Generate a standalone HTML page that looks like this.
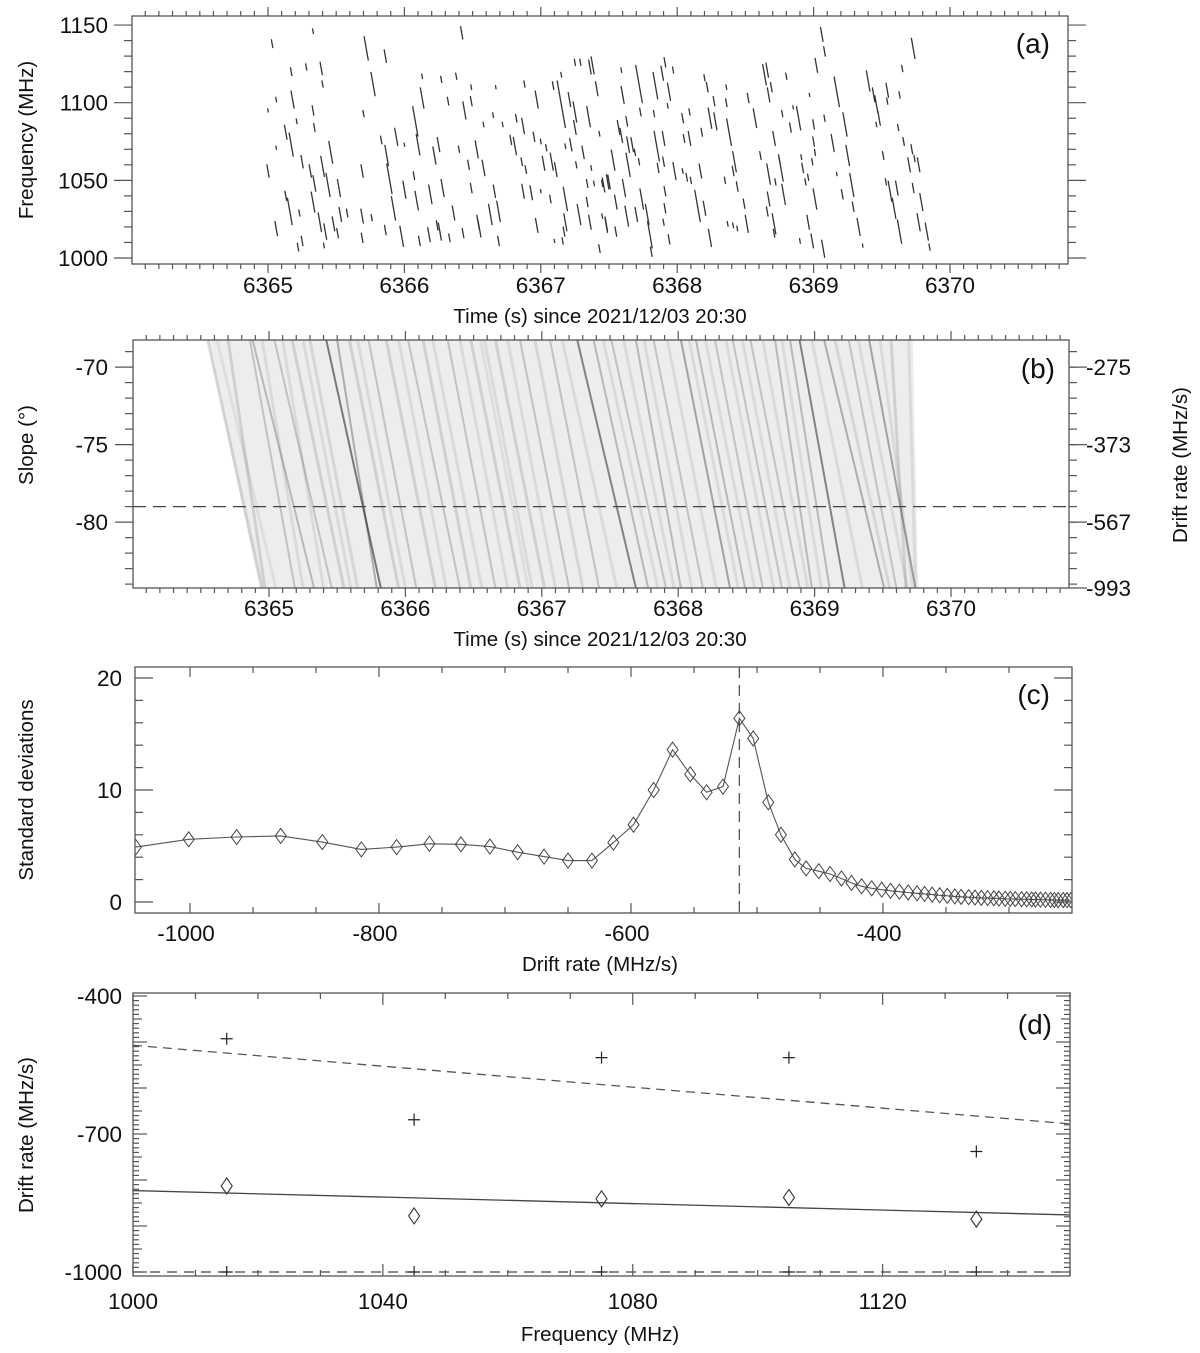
<!DOCTYPE html>
<html><head><meta charset="utf-8">
<style>
html,body{margin:0;padding:0;background:#fff;}
svg{display:block;font-family:"Liberation Sans",Arial,sans-serif;}
</style></head>
<body>
<svg id="fig" width="1200" height="1353" viewBox="0 0 1200 1353" xmlns="http://www.w3.org/2000/svg">
<defs>
<clipPath id="clipA"><rect x="132" y="16" width="936" height="248"/></clipPath>
<clipPath id="clipB"><rect x="133" y="340" width="936" height="248"/></clipPath>
<clipPath id="clipC"><rect x="135" y="667" width="937" height="246"/></clipPath>
<clipPath id="clipD"><rect x="133" y="993" width="937" height="283"/></clipPath>
</defs>
<g id="panelA"></g>
<g id="panelB"></g>
<g id="panelC"></g>
<g id="panelD"></g>
</svg>
<script>
// ---------- Panel (a): burst dashes [time s, centre freq MHz, length MHz]
const burstDashes = [
[6365.03,1138,5],[6365.33,1146,3],[6365.72,1135,15],[6365.86,1130,8],[6366.42,1145,8],
[6365.17,1120,5],[6365.28,1123,4],[6365.39,1122,8],[6365.40,1112,4],[6365.06,1102,3],
[6365.18,1102,11],[6365.33,1095,6],[6365.34,1084,5],[6365.21,1088,3],[6365.13,1081,9],
[6365.17,1073,15],[6365.06,1071,2],[6365.00,1056,8],[6365.25,1062,8],[6365.31,1056,8],
[6365.34,1048,10],[6365.40,1059,13],[6365.46,1068,14],[6365.44,1047,15],[6365.52,1045,11],
[6365.13,1040,6],[6365.16,1030,17],[6365.23,1029,4],[6365.33,1036,13],[6365.38,1023,12],
[6365.42,1017,10],[6365.48,1022,9],[6365.53,1028,9],[6365.58,1029,5],[6365.06,1019,9],
[6365.25,1011,6],[6365.22,1007,5],[6365.41,1008,3],[6365.51,1016,6],[6365.77,1112,15],
[6365.70,1093,4],[6365.69,1056,8],[6365.69,1027,9],[6365.69,1013,6],[6365.76,1026,4],
[6365.86,1018,6],[6365.83,1076,5],[6365.87,1066,13],[6365.89,1051,19],[6365.92,1032,15],
[6365.98,1014,13],[6365.94,1078,11],[6366.00,1073,2],[6366.08,1088,19],[6366.10,1073,13],
[6366.13,1117,3],[6366.13,1103,13],[6366.00,1044,11],[6366.07,1053,5],[6366.09,1037,12],
[6366.19,1041,12],[6366.22,1066,11],[6366.25,1073,9],[6366.28,1045,11],[6366.27,1115,4],
[6366.32,1101,5],[6366.38,1117,4],[6366.44,1095,11],[6366.49,1110,3],[6366.49,1101,6],
[6366.40,1070,4],[6366.47,1060,6],[6366.53,1070,11],[6366.58,1058,10],[6366.49,1045,6],
[6366.36,1029,9],[6366.33,1013,5],[6366.43,1016,6],[6366.54,1023,9],[6366.55,1019,11],
[6366.63,1028,13],[6366.66,1043,8],[6366.69,1030,13],[6366.69,1011,6],[6366.11,1011,6],
[6366.18,1015,9],[6366.26,1017,11],[6366.24,1021,6],[6366.67,1110,2],[6366.65,1092,3],
[6366.58,1086,3],[6366.72,1086,3],[6366.78,1076,6],[6366.81,1072,11],[6366.82,1090,5],
[6366.87,1085,10],[6366.88,1112,4],[6366.86,1062,5],[6366.89,1057,5],[6366.95,1078,6],
[6366.97,1102,11],[6367.00,1075,3],[6367.04,1071,4],[6367.02,1061,9],[6367.08,1062,11],
[6367.11,1057,9],[6366.87,1043,9],[6366.93,1042,9],[6367.00,1043,2],[6367.07,1038,5],
[6366.97,1021,9],[6367.09,1111,5],[6367.15,1118,3],[6367.15,1099,30],[6367.21,1102,9],
[6367.25,1094,13],[6367.25,1084,9],[6367.18,1072,3],[6367.22,1073,8],[6367.31,1068,8],
[6367.36,1123,9],[6367.41,1109,9],[6367.38,1124,11],[6367.25,1126,4],[6367.29,1126,4],
[6367.35,1091,13],[6367.43,1080,3],[6367.26,1060,4],[6367.37,1058,3],[6367.34,1048,5],
[6367.39,1048,3],[6367.18,1038,15],[6367.18,1023,11],[6367.17,1017,6],[6367.28,1028,13],
[6367.34,1036,6],[6367.36,1023,9],[6367.45,1027,3],[6367.48,1022,9],[6367.45,1048,4],
[6367.50,1049,9],[6367.43,1006,5],[6367.10,1011,2],[6367.16,1011,4],[6365.00,1095,2],
[6367.59,1121,3],[6367.60,1105,11],[6367.72,1112,24],[6367.73,1094,5],[6367.91,1126,6],
[6367.89,1119,9],[6367.97,1121,4],[6367.84,1111,17],[6367.94,1107,11],[6367.83,1093,4],
[6367.93,1098,3],[6367.57,1084,9],[6367.63,1088,6],[6367.59,1079,9],[6367.53,1063,13],
[6367.64,1073,10],[6367.67,1073,9],[6367.64,1060,15],[6367.69,1068,4],[6367.72,1062,4],
[6367.46,1047,9],[6367.49,1049,9],[6367.55,1036,9],[6367.61,1045,11],[6367.55,1017,6],
[6367.48,1021,9],[6367.63,1027,13],[6367.70,1028,9],[6367.74,1038,13],[6367.78,1028,13],
[6367.80,1015,17],[6367.81,1004,6],[6367.85,1072,19],[6367.90,1077,9],[6367.90,1062,6],
[6367.86,1058,6],[6367.91,1043,6],[6367.91,1032,6],[6367.90,1023,4],[6367.94,1012,6],
[6367.98,1056,11],[6368.04,1090,6],[6368.05,1077,5],[6368.09,1094,4],[6368.09,1077,9],
[6368.04,1056,3],[6368.07,1052,5],[6368.10,1050,4],[6368.17,1056,9],[6368.14,1038,11],
[6368.16,1028,9],[6368.20,1032,9],[6368.24,1013,11],[6368.18,1081,5],[6368.20,1116,4],
[6368.22,1110,6],[6368.27,1101,6],[6368.24,1090,13],[6368.28,1088,11],[6368.36,1110,3],
[6368.36,1100,5],[6368.38,1081,17],[6368.42,1062,13],[6368.41,1056,6],[6368.35,1050,4],
[6368.44,1046,6],[6368.49,1035,6],[6368.51,1022,11],[6368.37,1022,3],[6368.41,1021,3],
[6368.44,1019,3],[6368.52,1103,6],[6368.57,1090,12],[6368.64,1118,13],[6368.66,1121,9],
[6368.67,1105,9],[6368.69,1110,6],[6368.61,1066,5],[6368.67,1054,13],[6368.67,1038,9],
[6368.66,1030,6],[6368.71,1077,9],[6368.71,1022,13],[6368.71,1016,5],[6368.72,1049,4],
[6368.76,1058,17],[6368.78,1041,13],[6368.75,1063,3],[6368.77,1093,4],[6368.80,1117,4],
[6368.83,1084,6],[6368.85,1097,2],[6368.89,1090,15],[6368.91,1065,3],[6368.92,1058,6],
[6368.94,1049,4],[6368.96,1052,4],[6368.99,1062,4],[6369.00,1086,6],[6369.00,1075,6],
[6369.01,1068,4],[6369.01,1038,13],[6369.08,1090,4],[6369.02,1124,9],[6369.06,1144,9],
[6369.08,1133,6],[6368.97,1105,2],[6368.96,1023,9],[6368.99,1011,9],[6368.90,1011,3],
[6369.07,1006,11],[6369.14,1074,11],[6369.17,1107,19],[6369.23,1086,15],[6369.25,1066,13],
[6369.28,1047,15],[6369.17,1054,2],[6369.21,1041,6],[6369.29,1033,6],[6369.33,1020,11],
[6369.36,1008,2],[6369.40,1114,13],[6369.44,1105,9],[6369.46,1099,11],[6369.54,1108,9],
[6369.54,1101,4],[6369.51,1066,5],[6369.46,1086,3],[6369.48,1090,9],[6369.62,1084,4],
[6369.63,1105,4],[6369.65,1122,4],[6369.66,1075,5],[6369.72,1070,6],[6369.70,1060,9],
[6369.74,1064,4],[6369.77,1060,9],[6369.73,1045,6],[6369.53,1049,4],[6369.56,1043,13],
[6369.59,1032,13],[6369.61,1045,9],[6369.63,1017,15],[6369.79,1036,11],[6369.77,1023,11],
[6369.83,1017,11],[6369.85,1007,4],[6369.73,1135,13]
];
const timeTicks = [6365,6366,6367,6368,6369,6370];
const freqTicksA = [1000,1050,1100,1150];

// ---------- Panel (b): slope-map tracks [time at top (-68.25°), time at bottom (-84.25°), darkness]
const slopeTracks = [
[6364.55,6364.95,0.15],[6364.70,6364.97,0.15],[6364.86,6365.19,0.2],[6364.88,6365.33,0.25],
[6365.04,6365.46,0.2],[6365.17,6365.55,0.15],[6365.42,6365.82,0.55],[6365.50,6365.79,0.3],
[6365.59,6365.95,0.15],[6365.73,6366.08,0.2],[6365.86,6366.22,0.15],[6366.02,6366.40,0.2],
[6366.13,6366.48,0.15],[6366.31,6366.66,0.2],[6366.48,6366.84,0.15],[6366.66,6367.02,0.15],
[6366.84,6367.20,0.2],[6367.06,6367.42,0.2],[6367.26,6367.69,0.5],[6367.38,6367.78,0.25],
[6367.51,6367.91,0.2],[6367.69,6368.02,0.25],[6367.82,6368.18,0.2],[6368.02,6368.38,0.35],
[6368.13,6368.49,0.25],[6368.27,6368.62,0.2],[6368.40,6368.76,0.2],[6368.53,6368.89,0.2],
[6368.71,6368.98,0.25],[6368.82,6369.11,0.25],[6368.89,6369.22,0.5],[6369.07,6369.51,0.3],
[6369.25,6369.60,0.2],[6369.40,6369.74,0.35],[6369.56,6369.67,0.15],[6369.69,6369.74,0.1],
[6364.62,6365.05,0.08],[6364.95,6365.25,0.1],[6365.10,6365.40,0.1],[6365.30,6365.65,0.12],
[6365.65,6366.00,0.1],[6365.95,6366.30,0.1],[6366.20,6366.56,0.1],[6366.40,6366.75,0.1],
[6366.58,6366.93,0.1],[6366.75,6367.10,0.1],[6366.95,6367.30,0.12],[6367.15,6367.55,0.1],
[6367.45,6367.85,0.1],[6367.60,6367.97,0.1],[6367.75,6368.10,0.1],[6367.92,6368.28,0.1],
[6368.08,6368.44,0.1],[6368.20,6368.56,0.1],[6368.35,6368.70,0.1],[6368.47,6368.82,0.1],
[6368.62,6368.95,0.1],[6368.76,6369.05,0.1],[6368.98,6369.35,0.1],[6369.15,6369.55,0.12],
[6369.32,6369.68,0.1],[6369.48,6369.72,0.1],[6365.25,6365.60,0.1],[6366.55,6366.90,0.08]
];
// extent of the filled track region [top-left time, top-right time, bottom-left time, bottom-right time]
const slopeRegion = [6364.55,6369.72,6364.93,6369.76];
const slopeTicks = [-70,-75,-80];
const driftTickSlopes = [-70,-75,-80,-84.25];
const driftTickLabels = ['-275','-373','-567','-993'];
const selectedSlope = -79;

// ---------- Panel (c)
const driftRates = [-993,-951,-913,-878,-845,-814,-786,-760,-735,-712,-690,-669,-650,-631,-614,-598,-582,-567,-553,-540,-527,-514,-503,-491,-481,-470,-461,-451,-442,-433,-425,-417,-409,-401,-394,-387,-380,-373,-367,-361,-355,-349,-343,-338,-332,-327,-322,-317,-312,-308,-303,-299,-295,-290,-286,-282,-279,-275,-271,-267,-264,-261,-257,-254,-251];
const stdDevs = [4.9,5.6,5.8,5.9,5.35,4.7,4.9,5.2,5.15,4.95,4.45,4.05,3.7,3.7,5.3,6.9,10.0,13.6,11.4,9.8,10.3,16.4,14.6,8.9,6.0,3.8,3.0,2.75,2.5,2.1,1.7,1.4,1.22,1.1,1.0,0.92,0.85,0.78,0.72,0.66,0.6,0.55,0.5,0.46,0.43,0.4,0.37,0.35,0.33,0.31,0.29,0.28,0.26,0.25,0.24,0.23,0.22,0.21,0.2,0.19,0.18,0.17,0.17,0.16,0.16];
const peakDrift = -514;
const driftTickValuesC = [-950,-800,-600,-400];
const driftTickLabelsC = ['-1000','-800','-600','-400'];
const stdTicks = [0,10,20];

// ---------- Panel (d)
const bandFreqs = [1015,1045,1075,1105,1135];
const plusDrifts = [-493,-669,-534,-534,-738];
const diamondDrifts = [-813,-878,-841,-838,-885];
const fitFreqs = [1000,1150];
const solidFit = [-823,-876];
const dashedFit = [-507,-678];
const baselineDrift = -1000;
const freqTicksD = [1000,1040,1080,1120];
const driftTicksD = [-400,-700,-1000];

const NS = 'http://www.w3.org/2000/svg';
function mk(parent, tag, attrs, text){
  const e = document.createElementNS(NS, tag);
  for (const k in attrs) e.setAttribute(k, attrs[k]);
  if (text !== undefined) e.textContent = text;
  parent.appendChild(e);
  return e;
}
const AX = '#555';
const FS = 22.5;
const TS = 20.5;

const xA = t => 268 + (t - 6365) * 136.4;
const yA = f => 258 - (f - 1000) * 1.553;
const xB = t => 269 + (t - 6365) * 136.4;
const yB = s => 340 + (-68.25 - s) * 15.5;
const xC = d => 631 + (d + 600) * 1.26;
const yC = v => 902 - v * 11.2;
const xD = f => 133 + (f - 1000) * 6.247;
const yD = v => 996 + (-400 - v) * 0.46;

function box(g, L, T, R, B, name){
  const r = mk(g,'rect',{x:L,y:T,width:R-L,height:B-T,fill:'none',stroke:AX,'stroke-width':1.3});
  
  
}
function tickLine(g, x1,y1,x2,y2){ mk(g,'line',{x1:x1,y1:y1,x2:x2,y2:y2,stroke:AX,'stroke-width':1.2}); }

// ================= Panel A
(function(){
  const g = document.getElementById('panelA');
  const L=132,R=1068,T=16,B=264;
  const data = mk(g,'g',{'clip-path':'url(#clipA)'});
  
  
  burstDashes.forEach(d => {
    const dt = d[2] / 500;
    const ln = mk(data,'line',{x1:xA(d[0]-dt/2),y1:yA(d[1]+d[2]/2),x2:xA(d[0]+dt/2),y2:yA(d[1]-d[2]/2),stroke:'#333','stroke-width':1.3,'stroke-linecap':'round'});
    
    
  });
  box(g,L,T,R,B,'panel-a-frame');
  for (let i=0;i<=69;i++){
    const t = 6364 + i*0.1; const x = xA(t);
    if (x<L||x>R) continue;
    const major = Math.abs(t-Math.round(t))<1e-6;
    const len = major?9:5;
    tickLine(g,x,B,x,B+len); tickLine(g,x,T,x,T-len);
  }
  for (let f=1000; f<=1150; f+=10){
    const y=yA(f); const major = f%50===0; const len=major?18:8;
    tickLine(g,L-len,y,L,y); tickLine(g,R,y,R+len,y);
  }
  timeTicks.forEach(t=>{
    const tx = mk(g,'text',{x:xA(t),y:293,'font-size':FS,'text-anchor':'middle',fill:'#111'},String(t));
    
    
  });
  freqTicksA.forEach(f=>{
    const tx = mk(g,'text',{x:108,y:yA(f)+8,'font-size':FS,'text-anchor':'end',fill:'#111'},String(f));
    
    
  });
  const xt = mk(g,'text',{x:600,y:323,'font-size':TS,'text-anchor':'middle',fill:'#111'},'Time (s) since 2021/12/03 20:30');
  
  
  const yt = mk(g,'text',{x:0,y:0,'font-size':TS,'text-anchor':'middle',fill:'#111',transform:'translate(33,140) rotate(-90)'},'Frequency (MHz)');
  
  
  const pl = mk(g,'text',{x:1050,y:53,'font-size':28,'text-anchor':'end',fill:'#111'},'(a)');
  
  
})();

// ================= Panel B
(function(){
  const g = document.getElementById('panelB');
  const L=133,R=1069,T=340,B=588;
  const data = mk(g,'g',{'clip-path':'url(#clipB)'});
  
  
  const yt0 = yB(-68.25), yb0 = yB(-84.25);
  const bg = mk(data,'polygon',{points:`${xB(slopeRegion[0])},${yt0} ${xB(slopeRegion[1])},${yt0} ${xB(slopeRegion[3])},${yb0} ${xB(slopeRegion[2])},${yb0}`,fill:'#000','fill-opacity':0.07});
  
  
  slopeTracks.forEach(s=>{
    const w = s[2] < 0.2 ? 3 : 2;
    const a = s[2] < 0.2 ? s[2]*0.8 : s[2]*0.9;
    const ln = mk(data,'line',{x1:xB(s[0]),y1:yt0,x2:xB(s[1]),y2:yb0,stroke:'#000','stroke-opacity':a,'stroke-width':w});
    
    
  });
  const dl = mk(g,'line',{x1:L,y1:yB(selectedSlope),x2:R,y2:yB(selectedSlope),stroke:'#444','stroke-width':1.3,'stroke-dasharray':'13,7'});
  
  
  box(g,L,T,R,B,'panel-b-frame');
  for (let i=0;i<=69;i++){
    const t = 6364 + i*0.1; const x = xB(t);
    if (x<L||x>R) continue;
    const major = Math.abs(t-Math.round(t))<1e-6;
    const len = major?9:5;
    tickLine(g,x,B,x,B+len); tickLine(g,x,T,x,T-len);
  }
  for (let s=-69; s>=-84; s--){
    const y=yB(s); const major = s%5===0; const len=major?18:8;
    tickLine(g,L-len,y,L,y);
  }
  for (let s=-69; s>=-84; s--){ const y=yB(s); tickLine(g,R,y,R+8,y); }
  driftTickSlopes.forEach(s=>{ const y=yB(s); tickLine(g,R,y,R+18,y); });
  timeTicks.forEach(t=>{
    const tx = mk(g,'text',{x:xB(t),y:616,'font-size':FS,'text-anchor':'middle',fill:'#111'},String(t));
    
    
  });
  slopeTicks.forEach(s=>{
    const tx = mk(g,'text',{x:108,y:yB(s)+8,'font-size':FS,'text-anchor':'end',fill:'#111'},String(s));
    
    
  });
  driftTickSlopes.forEach((s,i)=>{
    const tx = mk(g,'text',{x:1086,y:yB(s)+8,'font-size':FS,'text-anchor':'start',fill:'#111'},driftTickLabels[i]);
    
    
  });
  const xt = mk(g,'text',{x:600,y:646,'font-size':TS,'text-anchor':'middle',fill:'#111'},'Time (s) since 2021/12/03 20:30');
  
  
  const yt = mk(g,'text',{x:0,y:0,'font-size':TS,'text-anchor':'middle',fill:'#111',transform:'translate(33,445) rotate(-90)'},'Slope (°)');
  
  
  const yt2 = mk(g,'text',{x:0,y:0,'font-size':TS,'text-anchor':'middle',fill:'#111',transform:'translate(1187,465) rotate(-90)'},'Drift rate (MHz/s)');
  
  
  const pl = mk(g,'text',{x:1055,y:378,'font-size':28,'text-anchor':'end',fill:'#111'},'(b)');
  
  
})();

// ================= Panel C
(function(){
  const g = document.getElementById('panelC');
  const L=135,R=1072,T=667,B=913;
  const data = mk(g,'g',{'clip-path':'url(#clipC)'});
  const pk = mk(data,'line',{x1:xC(peakDrift),y1:T,x2:xC(peakDrift),y2:B,stroke:'#555','stroke-width':1.3,'stroke-dasharray':'11,7'});
  
  
  const pts = driftRates.map((d,i)=>xC(d).toFixed(1)+','+yC(stdDevs[i]).toFixed(1)).join(' ');
  const pl1 = mk(data,'polyline',{points:pts,fill:'none',stroke:'#555','stroke-width':1.1});
  
  
  driftRates.forEach((d,i)=>{
    const x=xC(d), y=yC(stdDevs[i]);
    const dm = mk(data,'polygon',{points:`${x},${y-7.5} ${x+5.5},${y} ${x},${y+7.5} ${x-5.5},${y}`,fill:'none',stroke:'#444','stroke-width':1});
    
    
  });
  box(g,L,T,R,B,'panel-c-frame');
  for (let d=-950; d<=-300; d+=50){
    const x=xC(d); const major = driftTickValuesC.indexOf(d)>=0; const len=major?10:6;
    tickLine(g,x,B,x,B-len); tickLine(g,x,T,x,T+len);
  }
  for (let v=0; v<=20; v+=2){
    const y=yC(v); const major=v%10===0; const len=major?18:8;
    tickLine(g,L,y,L+len,y); tickLine(g,R-len,y,R,y);
  }
  driftTickValuesC.forEach((d,i)=>{
    const tx = mk(g,'text',{x:xC(d)-4,y:941,'font-size':FS,'text-anchor':'middle',fill:'#111'},driftTickLabelsC[i]);
    
    
  });
  stdTicks.forEach(v=>{
    const tx = mk(g,'text',{x:122,y:yC(v)+8,'font-size':FS,'text-anchor':'end',fill:'#111'},String(v));
    
    
  });
  const xt = mk(g,'text',{x:600,y:971,'font-size':TS,'text-anchor':'middle',fill:'#111'},'Drift rate (MHz/s)');
  
  
  const yt = mk(g,'text',{x:0,y:0,'font-size':TS,'text-anchor':'middle',fill:'#111',transform:'translate(33,790) rotate(-90)'},'Standard deviations');
  
  
  const pl = mk(g,'text',{x:1050,y:704,'font-size':28,'text-anchor':'end',fill:'#111'},'(c)');
  
  
})();

// ================= Panel D
(function(){
  const g = document.getElementById('panelD');
  const L=133,R=1070,T=993,B=1276;
  const data = mk(g,'g',{'clip-path':'url(#clipD)'});
  const sf = mk(data,'line',{x1:xD(fitFreqs[0]),y1:yD(solidFit[0]),x2:xD(fitFreqs[1]),y2:yD(solidFit[1]),stroke:'#444','stroke-width':1.3});
  
  
  const df = mk(data,'line',{x1:xD(fitFreqs[0]),y1:yD(dashedFit[0]),x2:xD(fitFreqs[1]),y2:yD(dashedFit[1]),stroke:'#555','stroke-width':1.3,'stroke-dasharray':'9,6'});
  
  
  const bl = mk(data,'line',{x1:L,y1:yD(baselineDrift),x2:R,y2:yD(baselineDrift),stroke:'#444','stroke-width':1.3,'stroke-dasharray':'10,7'});
  
  
  bandFreqs.forEach((f,i)=>{
    const x=xD(f), y=yD(plusDrifts[i]);
    const p = mk(data,'path',{d:`M${x-6},${y}H${x+6}M${x},${y-6}V${y+6}`,stroke:'#222','stroke-width':1.2,fill:'none'});
    
    
    const yb = yD(baselineDrift);
    const p2 = mk(data,'path',{d:`M${x-6},${yb}H${x+6}M${x},${yb-6}V${yb+6}`,stroke:'#222','stroke-width':1.2,fill:'none'});
    
    
    const yd = yD(diamondDrifts[i]);
    const dm = mk(data,'polygon',{points:`${x},${yd-8} ${x+5.5},${yd} ${x},${yd+8} ${x-5.5},${yd}`,fill:'none',stroke:'#333','stroke-width':1.1});
    
    
  });
  box(g,L,T,R,B,'panel-d-frame');
  for (let f=1000; f<=1150; f+=10){
    const x=xD(f); const major=f%40===0; const len=major?12:6;
    tickLine(g,x,B,x,B-len); tickLine(g,x,T,x,T+len);
  }
  for (let v=-400; v>=-1000; v-=10){
    const y=yD(v); const len = v%100===0?14:(v%50===0?9:6);
    tickLine(g,L,y,L+len,y); tickLine(g,R-len,y,R,y);
  }
  freqTicksD.forEach(f=>{
    const tx = mk(g,'text',{x:xD(f),y:1309,'font-size':FS,'text-anchor':'middle',fill:'#111'},String(f));
    
    
  });
  driftTicksD.forEach(v=>{
    const tx = mk(g,'text',{x:122,y:yD(v)+8,'font-size':FS,'text-anchor':'end',fill:'#111'},String(v));
    
    
  });
  const xt = mk(g,'text',{x:600,y:1341,'font-size':TS,'text-anchor':'middle',fill:'#111'},'Frequency (MHz)');
  
  
  const yt = mk(g,'text',{x:0,y:0,'font-size':TS,'text-anchor':'middle',fill:'#111',transform:'translate(33,1135) rotate(-90)'},'Drift rate (MHz/s)');
  
  
  const pl = mk(g,'text',{x:1052,y:1034,'font-size':28,'text-anchor':'end',fill:'#111'},'(d)');
  
  
})();
</script>
</body></html>
